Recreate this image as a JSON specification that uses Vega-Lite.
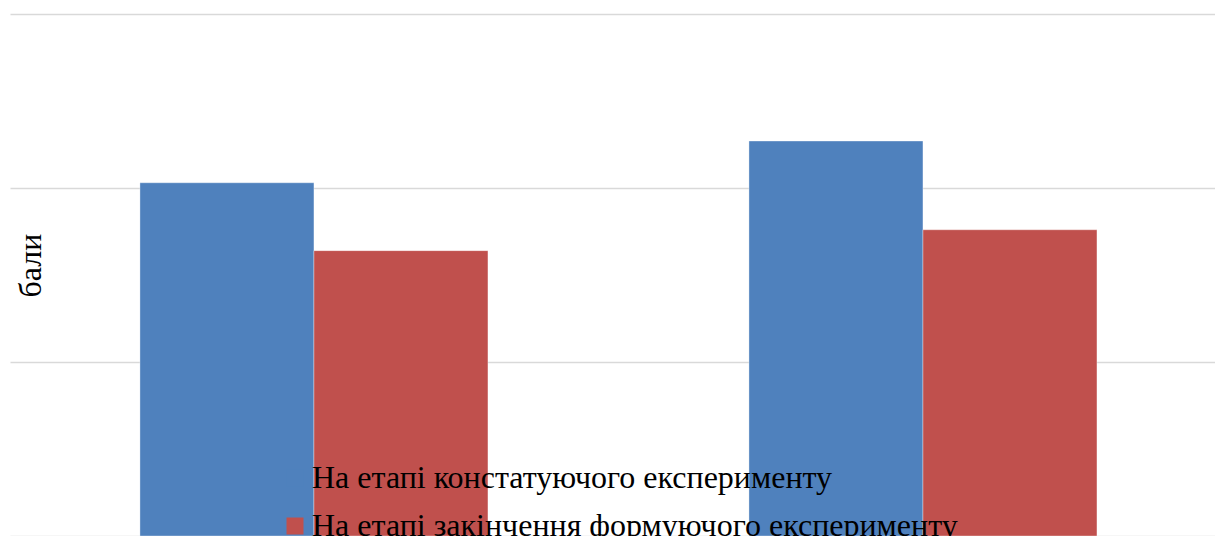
{
  "$schema": "https://vega.github.io/schema/vega-lite/v6.json",
  "width": 1205,
  "height": 522,
  "autosize": {"type": "none"},
  "padding": {"left": 10, "top": 14, "right": 0, "bottom": 0},
  "background": "#ffffff",
  "config": {
    "view": {"stroke": null},
    "font": "Liberation Serif"
  },
  "data": {
    "values": [
      {"group": "Показник 1", "stage": "На етапі констатуючого експерименту", "score": 2.03},
      {"group": "Показник 1", "stage": "На етапі закінчення формуючого експерименту", "score": 1.64},
      {"group": "Показник 2", "stage": "На етапі констатуючого експерименту", "score": 2.27},
      {"group": "Показник 2", "stage": "На етапі закінчення формуючого експерименту", "score": 1.76}
    ]
  },
  "mark": {"type": "bar", "stroke": "#ffffff", "strokeOpacity": 0.35, "strokeWidth": 1},
  "encoding": {
    "x": {
      "field": "group",
      "type": "nominal",
      "sort": null,
      "scale": {"paddingInner": 0.42857, "paddingOuter": 0.2036, "align": 0.524},
      "axis": null
    },
    "xOffset": {
      "field": "stage",
      "type": "nominal",
      "sort": ["На етапі констатуючого експерименту", "На етапі закінчення формуючого експерименту"],
      "scale": {"paddingInner": 0, "paddingOuter": 0}
    },
    "y": {
      "field": "score",
      "type": "quantitative",
      "scale": {"domain": [0, 3], "nice": false},
      "axis": {
        "values": [0, 1, 2, 3],
        "domain": false,
        "ticks": false,
        "labels": false,
        "grid": true,
        "gridColor": "#d9d9d9",
        "gridWidth": 1.5,
        "title": "бали",
        "titleFont": "Liberation Serif",
        "titleFontSize": 32,
        "titleFontWeight": "normal",
        "titleColor": "#000000",
        "titleAngle": -90,
        "titleAlign": "center",
        "titleBaseline": "alphabetic",
        "titleX": 30,
        "titleY": 251
      }
    },
    "color": {
      "field": "stage",
      "type": "nominal",
      "scale": {
        "domain": ["На етапі констатуючого експерименту", "На етапі закінчення формуючого експерименту"],
        "range": ["#4F81BD", "#C0504D"]
      },
      "legend": {
        "orient": "none",
        "legendX": 269,
        "legendY": 448,
        "title": null,
        "padding": 0,
        "symbolType": "square",
        "symbolSize": 289,
        "symbolStrokeWidth": 0,
        "symbolOpacity": 1,
        "labelFont": "Liberation Serif",
        "labelFontSize": 32,
        "labelColor": "#000000",
        "labelOffset": 1,
        "labelLimit": 0,
        "rowPadding": 16
      }
    }
  }
}
